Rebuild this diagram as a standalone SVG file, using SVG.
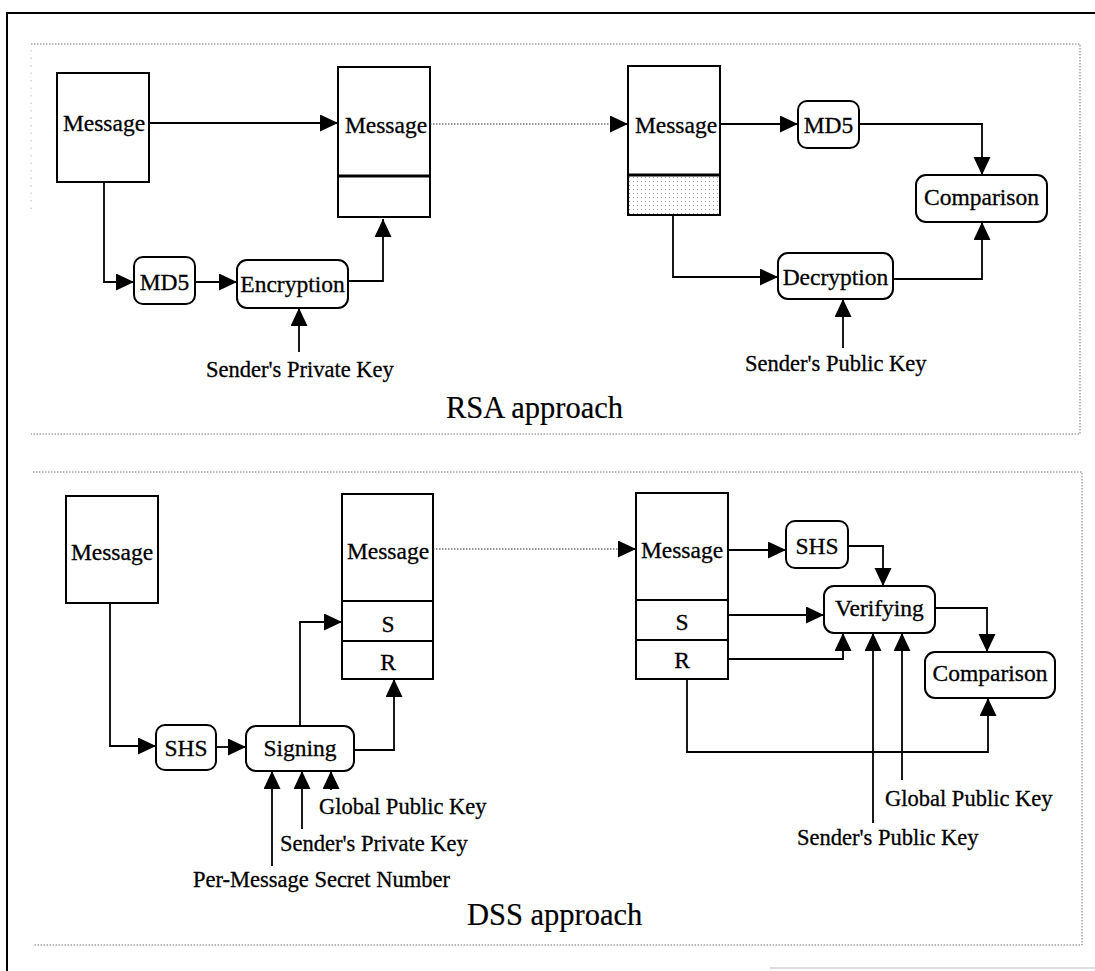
<svg xmlns="http://www.w3.org/2000/svg" width="1095" height="971" viewBox="0 0 1095 971">
  <style>
    .box { fill: #fff; stroke: #000; stroke-width: 2; }
    .proc { fill: #fff; stroke: #000; stroke-width: 2; }
    .div { stroke: #000; stroke-width: 2; }
    .thick { stroke: #000; stroke-width: 3; }
    .txt { font-family: "Liberation Serif", "Times New Roman", serif; font-size: 23.5px; fill: #000; stroke: #000; stroke-width: 0.3; text-anchor: middle; }
    .lbl { font-family: "Liberation Serif", "Times New Roman", serif; font-size: 22.5px; fill: #000; stroke: #000; stroke-width: 0.3; }
    .title { font-family: "Liberation Serif", "Times New Roman", serif; font-size: 30.5px; fill: #000; stroke: #000; stroke-width: 0.2; }
    .panel { fill: none; stroke: #777; stroke-width: 1; stroke-dasharray: 1.5 1.5; }
    .edge { fill: none; stroke: #000; stroke-width: 1.8; }
    .dotted { fill: none; stroke: #333; stroke-width: 1; stroke-dasharray: 1.5 1.5; }
  </style>
  <defs>
    <marker id="arrow" markerUnits="userSpaceOnUse" markerWidth="19" markerHeight="18" refX="18" refY="8.5" orient="auto">
      <path d="M0,0 L18,8.5 L0,17 z" fill="#000"/>
    </marker>
    <pattern id="stipple" width="4" height="4" patternUnits="userSpaceOnUse">
      <rect x="1" y="1" width="1" height="1" fill="#999"/>
    </pattern>
  </defs>

  <rect x="0" y="0" width="1095" height="971" fill="#fff"/>

  <!-- outer frame -->
  <path d="M7,971 L7,13 L1095,13" fill="none" stroke="#000" stroke-width="2"/>
  <line x1="770" y1="968" x2="1095" y2="968" stroke="#ddd" stroke-width="2"/>

  <!-- section frames -->
  <g id="rsa-panel">
    <path class="panel" d="M31,44 L1080,44 L1080,434 L31,434"/>
    <line x1="31" y1="50" x2="31" y2="210" stroke="#bbb" stroke-width="1" stroke-dasharray="1.5 6"/>
    <text class="title" x="446" y="418">RSA approach</text>
  </g>
  <g id="dss-panel">
    <path class="panel" d="M33,472 L1082,472 L1082,945 L33,945"/>
    <text class="title" x="467" y="925">DSS approach</text>
  </g>

  <!-- RSA nodes -->
  <g id="rsa-msg-src">
    <rect class="box" x="57" y="73" width="92" height="109"/>
    <text class="txt" x="104" y="131">Message</text>
  </g>
  <g id="rsa-msg-signed">
    <rect class="box" x="338" y="67" width="92" height="150"/>
    <line class="thick" x1="338" y1="176" x2="430" y2="176"/>
    <text class="txt" x="386" y="133">Message</text>
  </g>
  <g id="rsa-msg-recv">
    <rect x="628" y="175" width="92" height="40" fill="url(#stipple)"/>
    <rect x="628" y="66" width="92" height="149" fill="none" stroke="#000" stroke-width="2"/>
    <line class="thick" x1="628" y1="175" x2="720" y2="175"/>
    <text class="txt" x="676" y="133">Message</text>
  </g>
  <g id="rsa-md5-send">
    <rect class="proc" x="134" y="257" width="61" height="47" rx="9"/>
    <text class="txt" x="164.5" y="290">MD5</text>
  </g>
  <g id="rsa-encryption">
    <rect class="proc" x="237" y="260" width="111" height="48" rx="10"/>
    <text class="txt" x="292.5" y="292">Encryption</text>
  </g>
  <g id="rsa-md5-recv">
    <rect class="proc" x="798" y="101" width="61" height="47" rx="9"/>
    <text class="txt" x="828.5" y="133">MD5</text>
  </g>
  <g id="rsa-comparison">
    <rect class="proc" x="916" y="175" width="131" height="47" rx="10"/>
    <text class="txt" x="981.5" y="205">Comparison</text>
  </g>
  <g id="rsa-decryption">
    <rect class="proc" x="778" y="253" width="115" height="46" rx="10"/>
    <text class="txt" x="835.5" y="285">Decryption</text>
  </g>
  <g id="rsa-private-key">
    <text class="lbl" x="206" y="377">Sender's Private Key</text>
  </g>
  <g id="rsa-public-key">
    <text class="lbl" x="745" y="371">Sender's Public Key</text>
  </g>

  <!-- DSS nodes -->
  <g id="dss-msg-src">
    <rect class="box" x="66" y="496" width="92" height="107"/>
    <text class="txt" x="112" y="560">Message</text>
  </g>
  <g id="dss-msg-signed">
    <rect class="box" x="342" y="494" width="91" height="185"/>
    <line class="div" x1="342" y1="601" x2="433" y2="601"/>
    <line class="div" x1="342" y1="641" x2="433" y2="641"/>
    <text class="txt" x="388" y="559">Message</text>
    <text class="txt" x="388" y="632">S</text>
    <text class="txt" x="388" y="670">R</text>
  </g>
  <g id="dss-msg-recv">
    <rect class="box" x="636" y="493" width="92" height="186"/>
    <line class="div" x1="636" y1="600" x2="728" y2="600"/>
    <line class="div" x1="636" y1="640" x2="728" y2="640"/>
    <text class="txt" x="682" y="558">Message</text>
    <text class="txt" x="682" y="630">S</text>
    <text class="txt" x="682" y="668">R</text>
  </g>
  <g id="dss-shs-send">
    <rect class="proc" x="156" y="725" width="60" height="45" rx="9"/>
    <text class="txt" x="186" y="756">SHS</text>
  </g>
  <g id="dss-signing">
    <rect class="proc" x="246" y="726" width="108" height="45" rx="10"/>
    <text class="txt" x="300" y="756">Signing</text>
  </g>
  <g id="dss-shs-recv">
    <rect class="proc" x="786" y="521" width="62" height="47" rx="9"/>
    <text class="txt" x="817" y="554">SHS</text>
  </g>
  <g id="dss-verifying">
    <rect class="proc" x="824" y="586" width="111" height="47" rx="10"/>
    <text class="txt" x="879.5" y="616">Verifying</text>
  </g>
  <g id="dss-comparison">
    <rect class="proc" x="925" y="652" width="130" height="46" rx="10"/>
    <text class="txt" x="990" y="681">Comparison</text>
  </g>
  <g id="dss-labels">
    <text class="lbl" x="319" y="814">Global Public Key</text>
    <text class="lbl" x="280" y="851">Sender's Private Key</text>
    <text class="lbl" x="193" y="887">Per-Message Secret Number</text>
    <text class="lbl" x="885" y="806">Global Public Key</text>
    <text class="lbl" x="797" y="845">Sender's Public Key</text>
  </g>

  <!-- connectors -->
  <g id="connectors">
    <!-- RSA sender side -->
    <path class="edge" d="M149,123 L338,123" marker-end="url(#arrow)"/>
    <path class="edge" d="M104,182 L104,282 L134,282" marker-end="url(#arrow)"/>
    <path class="edge" d="M195,282 L237,282" marker-end="url(#arrow)"/>
    <path class="edge" d="M348,281 L383,281 L383,219" marker-end="url(#arrow)"/>
    <path class="edge" d="M299,352 L299,308" marker-end="url(#arrow)"/>
    <!-- RSA transfer -->
    <path class="dotted" d="M430,124 L612,124"/>
    <path class="edge" d="M612,124 L628,124" marker-end="url(#arrow)" stroke-width="0.5"/>
    <!-- RSA receiver side -->
    <path class="edge" d="M720,124 L798,124" marker-end="url(#arrow)"/>
    <path class="edge" d="M859,124 L982,124 L982,175" marker-end="url(#arrow)"/>
    <path class="edge" d="M673,215 L673,277 L778,277" marker-end="url(#arrow)"/>
    <path class="edge" d="M893,279 L982,279 L982,222" marker-end="url(#arrow)"/>
    <path class="edge" d="M843,348 L843,299" marker-end="url(#arrow)"/>

    <!-- DSS sender side -->
    <path class="edge" d="M110,603 L110,746 L156,746" marker-end="url(#arrow)"/>
    <path class="edge" d="M216,747 L246,747" marker-end="url(#arrow)"/>
    <path class="edge" d="M300,726 L300,622 L342,622" marker-end="url(#arrow)"/>
    <path class="edge" d="M354,750 L394,750 L394,679" marker-end="url(#arrow)"/>
    <path class="edge" d="M272,866 L272,771" marker-end="url(#arrow)"/>
    <path class="edge" d="M302,829 L302,771" marker-end="url(#arrow)"/>
    <path class="edge" d="M331,790 L331,771" marker-end="url(#arrow)"/>
    <!-- DSS transfer -->
    <path class="dotted" d="M433,549 L620,549"/>
    <path class="edge" d="M620,549 L636,549" marker-end="url(#arrow)" stroke-width="0.5"/>
    <!-- DSS receiver side -->
    <path class="edge" d="M728,550 L786,550" marker-end="url(#arrow)"/>
    <path class="edge" d="M848,546 L883,546 L883,586" marker-end="url(#arrow)"/>
    <path class="edge" d="M728,615 L824,615" marker-end="url(#arrow)"/>
    <path class="edge" d="M728,659 L843,659 L843,633" marker-end="url(#arrow)"/>
    <path class="edge" d="M873,823 L873,633" marker-end="url(#arrow)"/>
    <path class="edge" d="M902,780 L902,633" marker-end="url(#arrow)"/>
    <path class="edge" d="M935,608 L987,608 L987,652" marker-end="url(#arrow)"/>
    <path class="edge" d="M687,679 L687,752 L988,752 L988,698" marker-end="url(#arrow)"/>
  </g>
</svg>
